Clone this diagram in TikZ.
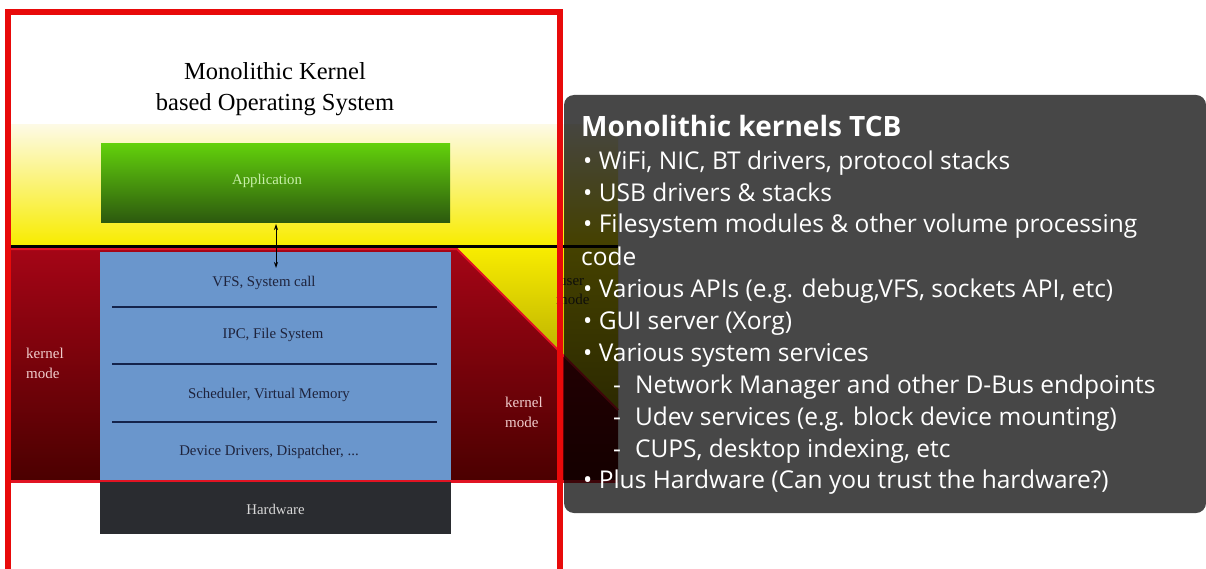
\documentclass[tikz,border=0pt]{standalone}
\usepackage{fontspec}
\setmainfont{Liberation Serif}
\newfontfamily\gill{Open Sans}
\usetikzlibrary{arrows.meta}
\definecolor{frameRed}{RGB}{232,10,10}
\definecolor{kernTop}{RGB}{165,5,22}
\definecolor{kernBot}{RGB}{75,0,0}
\definecolor{kernLine}{RGB}{225,20,35}
\definecolor{yelTop}{RGB}{253,250,228}
\definecolor{yelBot}{RGB}{248,236,0}
\definecolor{triBot}{RGB}{160,150,0}
\definecolor{blueBox}{RGB}{106,150,204}
\definecolor{sepLine}{RGB}{20,35,75}
\definecolor{hwBox}{RGB}{42,44,48}
\definecolor{greenTop}{RGB}{98,208,12}
\definecolor{greenBot}{RGB}{44,88,14}
\definecolor{blueText}{RGB}{30,35,60}
\definecolor{pinkText}{RGB}{240,205,205}
\begin{document}
\begin{tikzpicture}[x=1pt,y=-1pt,
  layertext/.style={font=\fontsize{14.8}{16}\selectfont, text=blueText, inner sep=0pt},
  modetext/.style={font=\fontsize{15}{16}\selectfont, inner sep=0pt, anchor=base west},
  tcb/.style={font=\gill\fontsize{24.5}{26}\selectfont, text=white, inner sep=0pt, anchor=base west},
  seprule/.style={draw=sepLine, line width=1.3pt}]
\useasboundingbox (0,0) rectangle (1206,569);
\fill[white] (0,0) rectangle (1206,569);
% user area (yellow gradient)
\shade[top color=yelTop, bottom color=yelBot] (10,125) rectangle (618,245);
% black user/kernel boundary
\draw[black, line width=3pt] (10,246) -- (618,246);
% kernel region
\shade[top color=kernTop, bottom color=kernBot] (10,248) -- (618,248) -- (618,481) -- (10,481) -- cycle;
% yellow triangle (user mode)
\shade[top color=yelBot, bottom color=triBot] (457,248) -- (618,248) -- (618,410) -- cycle;
\draw[kernLine, line width=2pt] (10,249) -- (457,249) -- (618,410);
% blue kernel box
\node[draw=none, fill=blueBox, minimum width=351pt, minimum height=229pt, inner sep=0pt] (kern) at (275.5,366.5) {};
\draw[seprule] (112,307) -- (437,307);
\draw[seprule] (112,364) -- (437,364);
\draw[seprule] (112,422) -- (437,422);
\node[layertext] (l1) at (264,283) {VFS, System call};
\node[layertext] (l2) at (273,335) {IPC, File System};
\node[layertext] (l3) at (269,395) {Scheduler, Virtual Memory};
\node[layertext] (l4) at (269,452) {Device Drivers, Dispatcher, ...};
% kernel bottom line
\draw[kernLine, line width=3pt] (10,481) -- (618,481);
% hardware
\node[fill=hwBox, minimum width=351pt, minimum height=52pt, inner sep=0pt] (hw) at (275.5,508) {};
\node[font=\fontsize{14.8}{16}\selectfont, text={rgb,255:red,215;green,215;blue,215}, inner sep=0pt] (hwt) at (275.5,509) {Hardware};
% application
\shade[top color=greenTop, bottom color=greenBot] (101,144) rectangle (450,223);
\node[minimum width=349pt, minimum height=79pt, inner sep=0pt] (app) at (275.5,183.5) {};
\node[font=\fontsize{14.8}{16}\selectfont, text={rgb,255:red,200;green,240;blue,170}, inner sep=0pt] (appt) at (267,181) {Application};
% arrow
\coordinate (arrS) at (276,224);
\coordinate (arrE) at (276,268);
\draw[{Stealth[length=6pt,width=4pt]}-{Stealth[length=6pt,width=4pt]}, line width=0.8pt] (arrS) -- (arrE);
% titles
\node[font=\fontsize{24.5}{31}\selectfont, align=center, inner sep=0pt] (title) at (275,89) {Monolithic Kernel\\based Operating System};
% mode labels
\node[modetext, text=pinkText] (km1) at (26,358) {kernel};
\node[modetext, text=pinkText] (km2) at (26,378) {mode};
\node[modetext, text=pinkText] (km3) at (505,407) {kernel};
\node[modetext, text=pinkText] (km4) at (505,427) {mode};
\node[modetext, text={rgb,255:red,50;green,50;blue,40}] (um1) at (559,285) {user};
\node[modetext, text={rgb,255:red,50;green,50;blue,40}] (um2) at (556,304) {mode};
% red frame
\draw[frameRed, line width=6pt] (7.5,12.5) -- (560,12.5) -- (560,580);
\draw[frameRed, line width=6pt] (7.5,9.5) -- (7.5,580);
% TCB box
\fill[black, opacity=0.72, rounded corners=10pt] (564,95) rectangle (1206,513);
\node[tcb, font=\gill\bfseries\fontsize{28}{30}\selectfont] (t0) at (581,137) {Monolithic kernels TCB};
\node[tcb] (t1) at (583,170) {\textbullet\ WiFi, NIC, BT drivers, protocol stacks};
\node[tcb] (t2) at (583,202) {\textbullet\ USB drivers \& stacks};
\node[tcb] (t3) at (583,233) {\textbullet\ Filesystem modules \& other volume processing};
\node[tcb] (t4) at (581,265) {code};
\node[tcb] (t5) at (583,297) {\textbullet\ Various APIs (e.g. debug,VFS, sockets API, etc)};
\node[tcb] (t6) at (583,329) {\textbullet\ GUI server (Xorg)};
\node[tcb] (t7) at (583,361) {\textbullet\ Various system services};
\node[tcb] (t8) at (613,393) {-\hspace{14pt}Network Manager and other D-Bus endpoints};
\node[tcb] (t9) at (613,425) {-\hspace{14pt}Udev services (e.g. block device mounting)};
\node[tcb] (t10) at (613,457) {-\hspace{14pt}CUPS, desktop indexing, etc};
\node[tcb] (t11) at (583,488) {\textbullet\ Plus Hardware (Can you trust the hardware?)};
\end{tikzpicture}
\end{document}
